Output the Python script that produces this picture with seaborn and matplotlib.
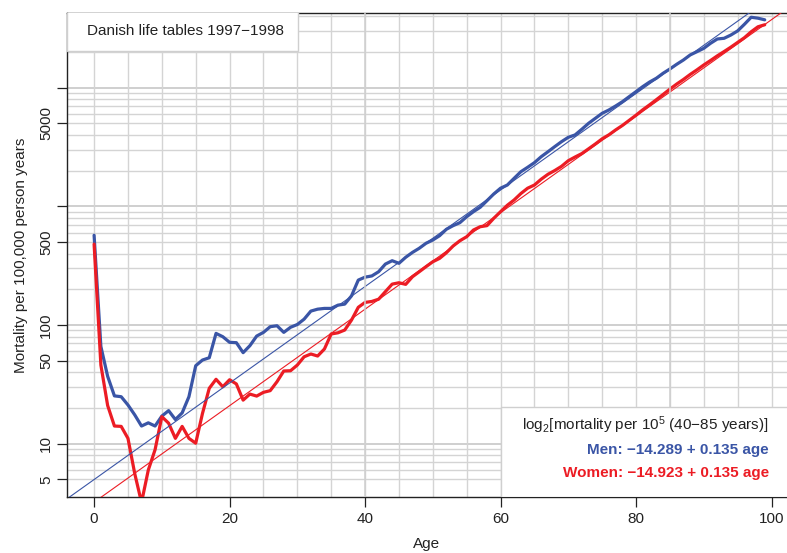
import numpy as np
import pandas as pd
import matplotlib
matplotlib.use("Agg")
import matplotlib.pyplot as plt
import seaborn as sns
from matplotlib.patches import Rectangle

# ---------------- data ----------------
ages = list(range(0, 100))
men = [570, 66, 37, 25.3, 24.9, 21.2, 17.5, 14.1, 15.0, 14.1,
       17.1, 19.0, 16.0, 18.2, 24.9, 45.4, 50.7, 53, 85, 79.7,
       71.5, 71, 58.5, 67, 80.7, 86.7, 96.8, 98.6, 86.7, 95.7,
       101, 112, 131, 136, 138, 138, 147, 150, 176, 239,
       253, 259, 281, 326, 348, 331, 372, 409, 443, 488,
       520, 565, 640, 687, 728, 817, 901, 981, 1115, 1270,
       1420, 1510, 1720, 1955, 2130, 2330, 2615, 2880, 3180, 3500,
       3810, 3990, 4455, 5000, 5510, 6070, 6475, 7000, 7610, 8390,
       9240, 10190, 11130, 11980, 13200, 14340, 15700, 17070, 18830, 20060,
       21400, 23600, 25650, 26000, 27700, 30000, 34100, 39100, 38400, 37200]
women = [480, 46, 21, 14.1, 14, 11.1, 5.6, 3.2, 6.0, 8.9,
         16.9, 14.9, 11.1, 14, 11.1, 10.1, 18, 29.3, 34.9, 30.2,
         34.6, 31.9, 23.3, 26.2, 25.2, 27.1, 28, 33.3, 41, 41.2,
         46, 54, 57, 54.8, 62.8, 84, 86, 90.7, 110, 141,
         155, 158, 165, 191, 221, 227, 220, 255, 281, 310,
         341, 364, 406, 463, 513, 554, 631, 673, 687, 792,
         900, 1020, 1130, 1280, 1420, 1510, 1690, 1860, 2000, 2170,
         2420, 2600, 2780, 3050, 3350, 3700, 4000, 4400, 4800, 5300,
         5850, 6500, 7150, 7900, 8750, 9700, 10700, 11700, 12900, 14100,
         15500, 16900, 18500, 20100, 21900, 24000, 26300, 29500, 32500, 33800]

# fitted log2 models (rate per person-year), 40-85 years
fit_sex = ["Men", "Women"]
fit_intercept = [-14.289, -14.923]
fit_slope = [0.135, 0.135]

y_ticks = [5, 10, 50, 100, 500, 1000, 5000, 10000]
y_ticklabels = ["5", "10", "50", "100", "500", "", "5000", ""]
x_ticks = [0, 20, 40, 60, 80, 100]

title_text = "Danish life tables 1997\u22121998"
model_header = "log$_2$[mortality per 10$^5$ (40\u221285 years)]"

# ---------------- style ----------------
BLUE = "#3a55a6"
RED = "#ec1c24"
sns.set_theme(style="white")
plt.rcParams["font.family"] = ["Liberation Sans", "DejaVu Sans"]
plt.rcParams["mathtext.fontset"] = "custom"
plt.rcParams["mathtext.rm"] = "Liberation Sans"
plt.rcParams["mathtext.it"] = "Liberation Sans"
plt.rcParams["mathtext.bf"] = "Liberation Sans:bold"

df = pd.DataFrame({
    "age": ages * 2,
    "rate": men + women,
    "sex": ["Men"] * len(ages) + ["Women"] * len(ages),
})

W, H = 787, 553
fig = plt.figure(figsize=(W / 100, H / 100), dpi=100)
L, R, T, B = 67, 787, 13, 497
ax = fig.add_axes([L / W, (H - B) / H, (R - L) / W, (B - T) / H])

xmin, xmax = -4, (787 - 94) / 6.775
ymin, ymax = 3.56, 42460
ax.set_yscale("log")
ax.set_xlim(xmin, xmax)
ax.set_ylim(ymin, ymax)

# grid
GRID = "#d4d4d4"
for k in range(0, 5):
    for m in range(1, 10):
        v = m * 10 ** k
        if v < 5 or v > ymax:
            continue
        lw = 1.3 if m == 1 else 1.0
        col = "#cbcbcb" if m == 1 else GRID
        ax.axhline(v, color=col, lw=lw, zorder=0.5)
for xv in range(0, 101, 5):
    ax.axvline(xv, color=GRID, lw=1.0, zorder=0.5)

# data lines
sns.lineplot(data=df, x="age", y="rate", hue="sex",
             palette={"Men": BLUE, "Women": RED}, linewidth=2.3,
             legend=False, ax=ax, zorder=3)

# fitted lines
xx = np.linspace(xmin, xmax, 200)
for sex, a, b in zip(fit_sex, fit_intercept, fit_slope):
    ax.plot(xx, 2 ** (a + b * xx) * 1e5, color=BLUE if sex == "Men" else RED,
            lw=0.8, zorder=4)

# fit range markers on top
for xv in (40, 85):
    ax.axvline(xv, color="#d0d0d0", lw=1.1, zorder=5)

# text boxes
box1 = Rectangle((0, (B - 51) / (B - T)), (298 - L) / (R - L), 1,
                 transform=ax.transAxes, facecolor="white",
                 edgecolor="#cfcfcf", lw=1.0, zorder=6)
ax.add_patch(box1)
ax.text((87 - L) / (R - L), (B - 31) / (B - T), title_text,
        transform=ax.transAxes, ha="left", va="center", fontsize=11,
        color="#222222", zorder=7)

box2 = Rectangle(((500.7 - L) / (R - L), 0), 1, (B - 407) / (B - T),
                 transform=ax.transAxes, facecolor="white",
                 edgecolor="#cfcfcf", lw=1.0, zorder=6)
ax.add_patch(box2)
xr = (769 - L) / (R - L)
ax.text(xr, (B - 425) / (B - T), model_header, transform=ax.transAxes,
        ha="right", va="center", fontsize=11, color="#222222", zorder=7)
ax.text(xr, (B - 450) / (B - T),
        f"{fit_sex[0]}: \u2212{abs(fit_intercept[0]):.3f} + {fit_slope[0]:.3f} age",
        transform=ax.transAxes, ha="right", va="center", fontsize=11,
        fontweight="bold", color=BLUE, zorder=7)
ax.text(xr, (B - 473) / (B - T),
        f"{fit_sex[1]}: \u2212{abs(fit_intercept[1]):.3f} + {fit_slope[1]:.3f} age",
        transform=ax.transAxes, ha="right", va="center", fontsize=11,
        fontweight="bold", color=RED, zorder=7)

# axes
ax.set_yticks(y_ticks)
ax.set_yticklabels(y_ticklabels, rotation=90, va="center")
ax.yaxis.set_minor_locator(matplotlib.ticker.NullLocator())
ax.set_xticks(x_ticks)
ax.set_xticklabels([str(v) for v in x_ticks])
ax.tick_params(axis="both", direction="out", length=7, width=0.9,
               color="#222222", labelsize=11, labelcolor="#222222",
               left=True, bottom=True)
ax.tick_params(axis="y", pad=3)
ax.tick_params(axis="x", pad=4)
for s in ("left", "bottom", "top"):
    ax.spines[s].set_color("#222222")
    ax.spines[s].set_linewidth(1.0)
    ax.spines[s].set_visible(True)
ax.spines["right"].set_visible(False)
ax.set_xlabel("Age", fontsize=11, color="#222222", labelpad=8)
ax.set_ylabel("Mortality per 100,000 person years", fontsize=11,
              color="#222222", labelpad=8)

fig.savefig("out.png", dpi=100)
